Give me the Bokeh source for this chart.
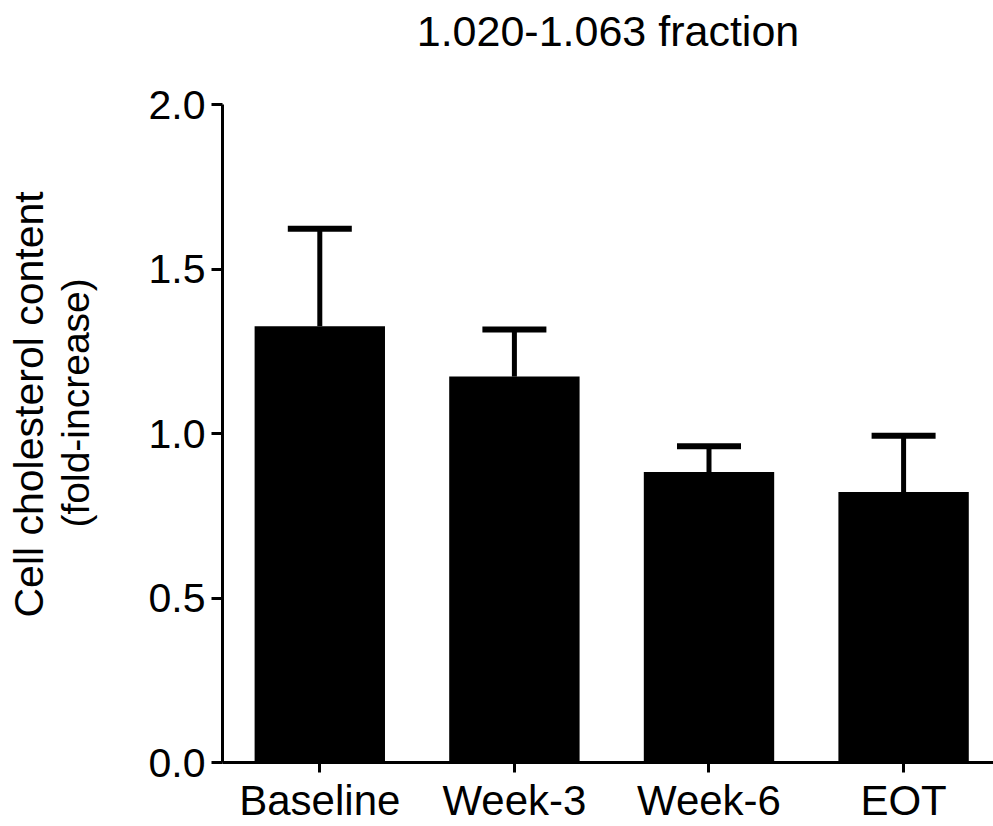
from bokeh.plotting import figure
from bokeh.models import (Range1d, FixedTicker, Whisker, ColumnDataSource, TeeHead,
                          Title, NumeralTickFormatter)
from bokeh.embed import file_html
from bokeh.resources import INLINE

categories = ["Baseline", "Week-3", "Week-6", "EOT"]
means = [1.326, 1.173, 0.883, 0.822]
sems = [0.296, 0.143, 0.078, 0.171]
y_ticks = [0.0, 0.5, 1.0, 1.5, 2.0]
title_text = "1.020-1.063 fraction"
ylabel_lines = ["Cell cholesterol content", "(fold-increase)"]

xs = list(range(len(categories)))
upper = [m + s for m, s in zip(means, sems)]
src = ColumnDataSource(dict(x=xs, top=means, upper=upper))

FONT = "Liberation Sans"

p = figure(width=993, height=826, output_backend="svg", toolbar_location=None,
           x_range=Range1d(-0.5, 3.462), y_range=Range1d(0, 2),
           min_border_left=222, min_border_right=0, min_border_top=104,
           min_border_bottom=59)
p.title.text = ""

p.vbar(x="x", top="top", bottom=0, width=0.67, source=src,
       fill_color="black", line_color=None)

w = Whisker(base="x", lower="top", upper="upper", source=src, dimension="height",
            line_width=5, line_color="black",
            upper_head=TeeHead(size=64, line_width=6, line_color="black"),
            lower_head=None)
p.add_layout(w)

top_spacer = Title(text=" ", text_font_size="1px", standoff=47)
main_title = Title(text=title_text, align="center", text_font=FONT,
                   text_font_size="43px", text_font_style="normal",
                   text_color="black", standoff=0)
p.add_layout(top_spacer, "above")
p.add_layout(main_title, "above")

p.xgrid.visible = False
p.ygrid.visible = False
p.outline_line_color = None
p.background_fill_color = "white"
p.border_fill_color = "white"

for ax in (p.xaxis[0], p.yaxis[0]):
    ax.axis_line_width = 3
    ax.axis_line_color = "black"
    ax.major_tick_line_width = 3
    ax.major_tick_line_color = "black"
    ax.major_tick_in = 0
    ax.minor_tick_in = 0
    ax.minor_tick_out = 0
    ax.major_label_text_font = FONT
    ax.major_label_text_color = "black"

p.xaxis.ticker = FixedTicker(ticks=xs)
p.xaxis.major_label_overrides = {i: c for i, c in enumerate(categories)}
p.xaxis.major_tick_out = 10
p.xaxis.major_label_text_font_size = "42px"
p.xaxis.major_label_standoff = 4

p.yaxis.ticker = FixedTicker(ticks=y_ticks)
p.yaxis.formatter = NumeralTickFormatter(format="0.0")
p.yaxis.bounds = (0, 2)
p.yaxis.major_tick_out = 11
p.yaxis.major_label_text_font_size = "41px"
p.yaxis.major_label_standoff = 6

spacer = Title(text=" ", text_font_size="1px", standoff=46)
t2 = Title(text=ylabel_lines[1], align="left", offset=235, text_font=FONT,
           text_font_size="39px", text_font_style="normal", text_color="black",
           standoff=0)
t1 = Title(text=ylabel_lines[0], align="left", offset=145, text_font=FONT,
           text_font_size="41px", text_font_style="normal", text_color="black",
           standoff=0)
p.add_layout(spacer, "left")
p.add_layout(t2, "left")
p.add_layout(t1, "left")

open("out.html", "w").write(file_html(p, INLINE))
